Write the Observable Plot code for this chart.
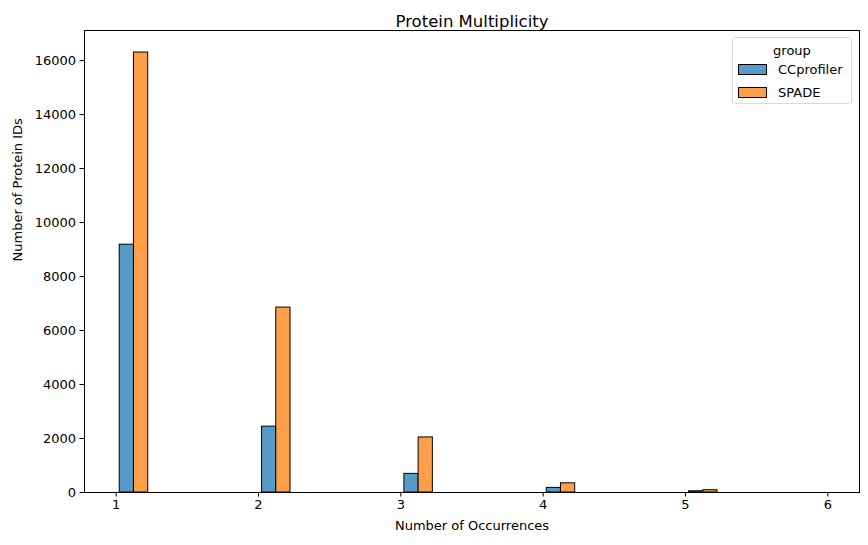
<!DOCTYPE html>
<html><head><meta charset="utf-8">
<script src="https://cdn.jsdelivr.net/npm/d3@7"></script>
<script src="https://cdn.jsdelivr.net/npm/@observablehq/plot@0.6"></script>
<style>
body{margin:0;background:#fff;font-family:"DejaVu Sans",sans-serif;}
#wrap{position:relative;width:868px;height:545px;}
.legend{position:absolute;left:732px;top:37px;width:120px;height:67px;border:1px solid #d9d9d9;border-radius:3px;background:rgba(255,255,255,0.8);font-size:13px;color:#000;box-sizing:border-box;}
.legend .ttl{position:absolute;left:0;width:100%;top:5px;text-align:center;line-height:15px;}
.legend .row{position:absolute;left:5px;height:15px;line-height:15px;white-space:nowrap;}
.legend .sw{display:inline-block;width:27px;height:9px;border:1px solid #000;vertical-align:middle;margin-right:11px;box-sizing:content-box;position:relative;top:-1px;}
</style>
</head><body>
<div id="wrap"></div>
<script>
const binStarts = [1, 1.25, 1.5, 1.75, 2, 2.25, 2.5, 2.75, 3, 3.25, 3.5, 3.75, 4, 4.25, 4.5, 4.75, 5, 5.25, 5.5, 5.75];
const groups = ["CCprofiler", "SPADE"];
const ccprofiler = [9180, 0, 0, 0, 2440, 0, 0, 0, 690, 0, 0, 0, 170, 0, 0, 0, 45, 0, 0, 0];
const spade = [16300, 0, 0, 0, 6850, 0, 0, 0, 2040, 0, 0, 0, 340, 0, 0, 0, 85, 0, 0, 0];
const xTicks = [1, 2, 3, 4, 5, 6];
const yTicks = [0, 2000, 4000, 6000, 8000, 10000, 12000, 14000, 16000];
const colors = ["#5799c7", "#ff9f4a"];

const binWidth = 0.25, shrink = 0.8;
const series = [ccprofiler, spade];
const rows = [];
series.forEach((vals, gi) => {
  vals.forEach((v, i) => {
    const w = binWidth * shrink / groups.length;
    const x1 = binStarts[i] + binWidth * (1 - shrink) / 2 + gi * w;
    rows.push({group: groups[gi], x1, x2: x1 + w, count: v});
  });
});
const nonzero = rows.filter(d => d.count > 0);
const zero = rows.filter(d => d.count === 0);

const chart = Plot.plot({
  width: 868, height: 545,
  marginLeft: 84, marginRight: 9, marginTop: 30, marginBottom: 53,
  style: {fontFamily: "DejaVu Sans, sans-serif", fontSize: "13px", color: "#000", background: "#fff"},
  x: {domain: [0.7775, 6.2225]},
  y: {domain: [0, 17115]},
  color: {domain: groups, range: colors},
  marks: [
    Plot.rect(nonzero, {x1: "x1", x2: "x2", y1: 0, y2: "count", fill: "group", stroke: "#000", strokeWidth: 1}),
    Plot.frame({stroke: "#000", strokeWidth: 1}),
    Plot.rect(zero, {x1: "x1", x2: "x2", y1: 0, y2: "count", stroke: "#d0d0d0", strokeWidth: 1, dy: -1}),
    Plot.axisX({ticks: xTicks, tickSize: 4.5, tickPadding: 3, tickFormat: d3.format("d"), label: null, fontSize: 13}),
    Plot.axisY({ticks: yTicks, tickSize: 4.5, tickPadding: 4, tickFormat: d3.format("d"), label: null, fontSize: 13}),
    Plot.text(["Number of Occurrences"], {frameAnchor: "bottom", dy: 37, fontSize: 13}),
    Plot.text(["Number of Protein IDs"], {frameAnchor: "left", rotate: -90, dx: -67, fontSize: 13}),
    Plot.text(["Protein Multiplicity"], {frameAnchor: "top", dy: -15.5, fontSize: 16.5})
  ]
});
const wrap = document.getElementById("wrap");
wrap.appendChild(chart);

const leg = document.createElement("div");
leg.className = "legend";
let html = '<div class="ttl">group</div>';
groups.forEach((g, i) => {
  html += `<div class="row" style="top:${24 + i * 23}px"><span class="sw" style="background:${colors[i]}"></span>${g}</div>`;
});
leg.innerHTML = html;
wrap.appendChild(leg);
</script>
</body></html>
